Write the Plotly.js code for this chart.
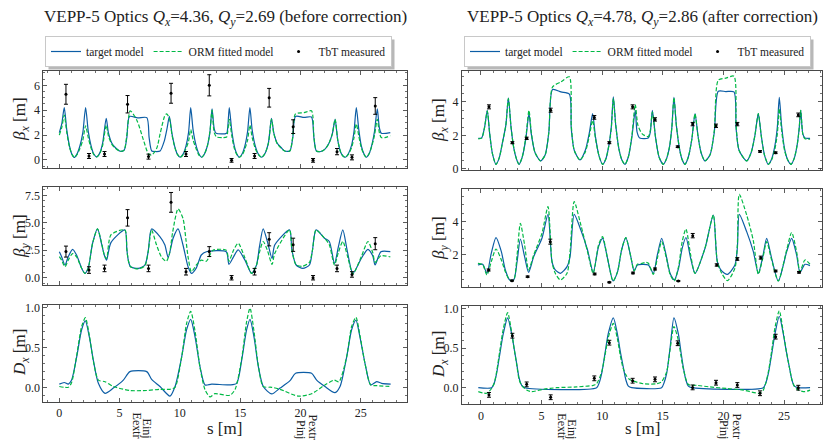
<!DOCTYPE html>
<html><head><meta charset="utf-8">
<script src="https://cdn.plot.ly/plotly-3.0.1.min.js"></script>
<style>html,body{margin:0;padding:0;background:#fff}#chart{width:823px;height:441px}</style>
</head><body><div id="chart"></div>
<script>
// ---------------- DATA (s [m], value) ----------------
// Left column: before correction
const bxL_target = [[0.0,2.2],[0.2,2.9],[0.41,4.2],[0.62,2.4],[0.85,1.1],[1.05,0.45],[1.24,0.2],[1.45,0.45],[1.7,1.1],[1.95,2.2],[2.18,4.2],[2.4,2.3],[2.62,1.2],[2.85,0.5],[3.1,0.25],[3.35,0.55],[3.6,1.4],[3.89,3.35],[4.08,2.15],[4.36,1.34],[4.64,1.0],[5.05,0.7],[5.38,0.8],[5.6,1.8],[5.82,3.5],[6.5,3.38],[7.26,3.4],[7.45,1.8],[7.67,0.72],[8.0,0.68],[8.36,0.72],[8.7,1.5],[8.95,2.6],[9.13,3.5],[9.35,2.1],[9.6,1.0],[9.8,0.45],[10.02,0.22],[10.25,0.45],[10.5,1.1],[10.72,2.2],[10.9,4.2],[11.1,2.4],[11.35,1.15],[11.58,0.5],[11.81,0.22],[12.05,0.5],[12.3,1.2],[12.5,2.3],[12.67,4.1],[12.85,2.5],[13.0,2.15],[13.88,2.15],[13.97,2.6],[14.1,4.2],[14.3,2.4],[14.5,1.2],[14.72,0.5],[14.93,0.22],[15.17,0.5],[15.4,1.15],[15.62,2.3],[15.81,4.2],[16.0,2.4],[16.25,1.15],[16.5,0.5],[16.78,0.22],[17.05,0.5],[17.35,1.4],[17.6,3.35],[17.8,2.15],[18.08,1.34],[18.4,1.0],[18.7,0.72],[19.12,0.72],[19.37,1.8],[19.59,3.5],[20.3,3.42],[20.92,3.45],[21.12,1.8],[21.33,0.72],[21.7,0.68],[22.02,0.85],[22.35,1.3],[22.65,2.1],[22.88,3.27],[23.1,1.6],[23.35,0.6],[23.55,0.3],[23.73,0.22],[23.98,0.5],[24.25,1.2],[24.45,2.3],[24.64,4.2],[24.85,2.4],[25.05,1.15],[25.27,0.5],[25.47,0.22],[25.7,0.5],[25.95,1.3],[26.15,2.3],[26.38,4.1],[26.55,2.6],[26.71,2.15],[27.46,2.2]];
const bxL_orm = [[0.0,2.0],[0.2,2.6],[0.41,3.6],[0.62,2.2],[0.85,1.0],[1.05,0.45],[1.24,0.2],[1.45,0.4],[1.7,0.9],[1.95,1.6],[2.18,2.75],[2.4,1.8],[2.62,1.0],[2.85,0.45],[3.1,0.25],[3.35,0.5],[3.6,1.2],[3.89,2.8],[4.08,1.9],[4.36,1.25],[4.64,0.95],[5.05,0.7],[5.38,0.8],[5.6,2.0],[5.88,3.95],[6.43,3.2],[6.98,1.6],[7.4,0.48],[7.67,0.4],[8.08,0.94],[8.36,2.1],[8.77,3.6],[8.91,3.7],[9.13,3.35],[9.35,2.0],[9.6,0.95],[9.8,0.45],[10.02,0.22],[10.25,0.4],[10.5,0.9],[10.72,1.5],[10.9,2.45],[11.1,1.6],[11.35,0.9],[11.58,0.4],[11.81,0.22],[12.05,0.5],[12.3,1.2],[12.5,2.3],[12.67,4.0],[12.85,2.2],[13.05,1.85],[13.5,1.8],[13.88,1.85],[13.97,2.3],[14.1,3.27],[14.3,2.0],[14.5,1.0],[14.72,0.45],[14.93,0.22],[15.17,0.4],[15.4,0.9],[15.62,1.6],[15.81,2.8],[16.0,1.8],[16.25,0.95],[16.5,0.45],[16.78,0.22],[17.05,0.5],[17.35,1.35],[17.6,3.27],[17.8,2.1],[18.08,1.3],[18.4,0.95],[18.7,0.72],[19.12,0.72],[19.37,1.9],[19.59,3.7],[20.3,3.8],[20.92,3.95],[21.12,1.9],[21.33,0.72],[21.7,0.68],[22.02,0.85],[22.35,1.3],[22.65,2.1],[22.88,3.27],[23.1,1.6],[23.35,0.6],[23.55,0.3],[23.73,0.22],[23.98,0.45],[24.25,1.0],[24.45,1.8],[24.64,2.9],[24.85,1.9],[25.05,1.0],[25.27,0.45],[25.47,0.22],[25.7,0.5],[25.95,1.2],[26.15,2.0],[26.38,3.27],[26.55,2.2],[26.71,1.8],[27.0,1.8],[27.46,1.95]];
const byL_target = [[0.0,2.37],[0.19,1.92],[0.47,1.16],[0.74,1.92],[1.1,2.59],[1.43,2.07],[1.85,0.86],[2.12,0.4],[2.4,0.9],[2.76,3.14],[3.17,4.44],[3.5,3.1],[3.75,2.0],[3.92,1.6],[4.28,3.2],[5.44,4.35],[5.6,2.6],[5.72,1.6],[5.91,1.0],[6.54,0.85],[7.1,1.16],[7.37,2.37],[7.65,4.44],[8.34,3.74],[8.75,3.0],[9.03,1.85],[9.44,3.6],[9.85,4.44],[10.26,2.98],[10.68,1.0],[10.96,0.4],[11.37,0.9],[11.78,2.07],[12.2,2.37],[13.85,2.37],[14.07,1.22],[14.45,1.9],[14.84,2.53],[15.4,1.6],[15.95,0.4],[16.36,1.16],[16.6,2.8],[16.91,4.44],[17.26,3.3],[17.65,1.75],[17.87,2.98],[19.1,4.35],[19.3,2.5],[19.65,1.16],[20.2,0.85],[20.75,1.16],[21.0,2.5],[21.3,4.35],[22.0,3.6],[22.4,3.3],[22.83,1.3],[23.15,2.8],[23.52,4.35],[23.9,2.37],[24.36,0.4],[25.05,1.75],[25.6,2.59],[26.0,2.0],[26.2,1.16],[26.68,2.37],[27.46,2.37]];
const byL_orm = [[0.0,1.92],[0.19,1.6],[0.47,1.0],[0.74,1.6],[1.1,2.2],[1.43,1.9],[1.85,0.86],[2.12,0.4],[2.4,0.9],[2.76,3.14],[3.17,4.44],[3.5,3.2],[3.75,2.0],[3.92,1.75],[4.28,3.9],[5.44,4.35],[5.6,2.6],[5.72,1.6],[5.91,1.0],[6.54,0.8],[7.1,1.1],[7.37,2.37],[7.65,4.35],[8.06,3.0],[8.47,1.9],[8.88,1.5],[9.14,2.2],[9.41,4.2],[9.85,6.27],[10.26,5.4],[10.5,3.5],[10.68,1.9],[10.96,0.55],[11.37,1.16],[11.78,1.6],[12.2,1.5],[12.75,2.5],[13.85,2.5],[14.07,1.5],[14.45,2.5],[14.84,3.14],[15.4,1.8],[15.95,0.4],[16.36,1.16],[16.6,2.3],[16.91,3.3],[17.26,2.5],[17.65,1.22],[17.87,2.2],[19.1,4.35],[19.3,2.5],[19.65,1.16],[20.2,1.05],[20.75,1.4],[21.0,2.5],[21.3,4.35],[22.0,3.6],[22.4,3.0],[22.83,1.16],[23.15,2.3],[23.52,3.3],[23.9,2.0],[24.36,0.35],[25.05,1.9],[25.6,3.3],[26.0,2.3],[26.2,1.4],[26.68,2.0],[27.46,1.9]];
const dxL_target = [[0,0.04],[0.41,0.06],[0.75,0.04],[1.02,0.09],[1.44,0.38],[1.85,0.72],[2.16,0.83],[2.49,0.63],[2.82,0.34],[3.24,0.05],[3.79,-0.075],[4.48,-0.01],[5.31,0.09],[5.86,0.196],[7.25,0.196],[7.66,0.1],[8.35,0.01],[9.18,-0.11],[9.6,0.01],[10.15,0.38],[10.56,0.72],[10.9,0.85],[11.26,0.63],[11.67,0.26],[12.09,0.03],[12.64,0.04],[14.16,0.03],[14.71,0.05],[15.13,0.34],[15.54,0.72],[15.82,0.85],[16.15,0.63],[16.51,0.26],[16.92,0.01],[17.62,-0.083],[18.31,-0.01],[19.14,0.083],[19.6,0.175],[20.93,0.175],[21.35,0.09],[22.04,0.01],[22.87,-0.067],[23.29,0.01],[23.84,0.38],[24.25,0.72],[24.61,0.84],[24.94,0.63],[25.36,0.3],[25.83,0.03],[26.33,0.07],[26.74,0.05],[27.49,0.04]];
const dxL_orm = [[0,0.01],[0.75,0.0],[1.02,0.06],[1.44,0.4],[1.85,0.76],[2.16,0.87],[2.49,0.65],[2.82,0.33],[3.24,0.09],[3.79,0.07],[4.48,0.01],[5.86,-0.04],[7.25,-0.04],[8.35,-0.025],[9.18,-0.025],[9.6,0.0],[10.15,0.38],[10.56,0.8],[10.9,0.95],[11.26,0.7],[11.67,0.25],[12.09,-0.03],[12.5,-0.12],[12.9,-0.08],[14.16,-0.1],[14.6,-0.02],[15.13,0.36],[15.54,0.82],[15.82,0.99],[16.15,0.7],[16.51,0.27],[16.92,0.01],[17.62,0.0],[18.31,-0.025],[19.8,-0.11],[20.93,-0.08],[22.04,0.03],[22.8,0.09],[23.2,0.07],[23.84,0.38],[24.25,0.76],[24.61,0.875],[24.94,0.65],[25.36,0.3],[25.83,0.03],[26.33,0.02],[27.49,0.01]];
// BPM measurements, left (TbT)
const bpmL = [0.55,2.46,3.75,5.66,7.40,9.27,10.51,12.44,14.29,16.2,17.41,19.40,21.05,23.04,24.28,26.21];
const bxL_meas = [5.28,0.32,0.48,4.48,0.27,5.36,0.48,6.0,-0.03,0.32,5.0,2.68,-0.03,0.67,0.21,4.34];
const bxL_err  = [0.8,0.2,0.2,0.7,0.2,0.8,0.2,0.85,0.15,0.2,0.75,0.55,0.15,0.25,0.2,0.67];
const byL_meas = [2.38,0.7,0.85,5.45,0.85,6.86,0.55,2.38,0.0,0.55,3.5,3.0,0.0,0.85,0.3,3.1];
const byL_err  = [0.5,0.3,0.3,0.75,0.3,0.9,0.3,0.45,0.2,0.3,0.6,0.6,0.2,0.3,0.25,0.55];

// Right column: after correction
const bxR_target = [[-0.22,1.83],[0.06,1.86],[0.3,2.5],[0.52,3.5],[0.72,2.1],[0.95,0.9],[1.24,0.28],[1.5,0.65],[1.78,1.6],[2.05,2.6],[2.26,4.25],[2.48,2.5],[2.72,1.2],[2.95,0.55],[3.14,0.28],[3.4,0.7],[3.7,1.8],[3.96,3.3],[4.15,2.1],[4.45,1.0],[4.92,0.48],[5.3,0.85],[5.6,2.2],[5.91,4.74],[6.6,4.6],[7.29,4.47],[7.45,2.4],[7.7,1.1],[8.17,0.54],[8.6,1.1],[8.95,2.2],[9.21,3.3],[9.45,1.9],[9.75,0.75],[10.04,0.28],[10.3,0.6],[10.55,1.4],[10.75,2.5],[10.92,4.3],[11.12,2.6],[11.38,1.2],[11.62,0.55],[11.88,0.28],[12.15,0.7],[12.45,1.9],[12.73,3.5],[12.88,2.2],[13.1,1.85],[13.8,1.85],[13.97,2.2],[14.14,3.5],[14.4,1.9],[14.7,0.7],[15.04,0.28],[15.3,0.6],[15.55,1.3],[15.75,2.5],[15.92,4.27],[16.12,2.6],[16.38,1.2],[16.6,0.55],[16.83,0.28],[17.1,0.7],[17.4,1.8],[17.66,3.3],[17.9,2.0],[18.15,1.0],[18.48,0.48],[18.9,0.85],[19.25,2.2],[19.58,4.64],[20.2,4.62],[20.87,4.6],[21.05,2.4],[21.3,1.1],[21.92,0.48],[22.3,1.0],[22.6,2.0],[22.88,3.3],[23.12,2.0],[23.4,0.8],[23.71,0.28],[23.98,0.6],[24.25,1.4],[24.45,2.5],[24.61,4.27],[24.8,2.6],[25.05,1.2],[25.3,0.55],[25.58,0.28],[25.85,0.65],[26.1,1.5],[26.25,2.4],[26.38,3.5],[26.55,2.1],[26.73,1.85],[27.15,1.83]];
const bxR_orm = [[-0.22,1.8],[0.06,1.84],[0.3,2.5],[0.52,3.45],[0.72,2.1],[0.95,0.9],[1.24,0.28],[1.5,0.65],[1.78,1.6],[2.05,2.6],[2.26,4.2],[2.48,2.5],[2.72,1.2],[2.95,0.55],[3.14,0.28],[3.4,0.7],[3.7,1.9],[3.96,3.5],[4.15,2.2],[4.45,1.0],[4.92,0.48],[5.3,0.85],[5.6,2.2],[5.91,4.9],[6.6,5.2],[7.29,5.5],[7.45,2.6],[7.7,1.1],[8.17,0.54],[8.6,1.0],[8.95,2.0],[9.21,2.9],[9.45,1.8],[9.75,0.75],[10.04,0.28],[10.3,0.6],[10.55,1.4],[10.75,2.4],[10.92,4.2],[11.12,2.6],[11.38,1.2],[11.62,0.55],[11.88,0.28],[12.15,0.7],[12.45,2.0],[12.73,3.85],[12.95,2.6],[13.3,2.1],[13.8,1.93],[13.97,2.3],[14.14,3.4],[14.4,1.9],[14.7,0.7],[15.04,0.28],[15.3,0.6],[15.55,1.3],[15.75,2.5],[15.92,4.27],[16.12,2.6],[16.38,1.2],[16.6,0.55],[16.83,0.28],[17.1,0.7],[17.4,1.8],[17.66,3.3],[17.9,2.0],[18.15,1.0],[18.48,0.48],[18.9,0.85],[19.25,2.3],[19.58,5.3],[20.2,5.42],[20.87,5.54],[21.05,2.6],[21.3,1.1],[21.92,0.48],[22.3,1.0],[22.6,2.0],[22.88,3.3],[23.12,2.0],[23.4,0.8],[23.71,0.28],[23.98,0.55],[24.25,1.2],[24.45,2.1],[24.61,3.6],[24.8,2.3],[25.05,1.1],[25.3,0.55],[25.58,0.28],[25.85,0.65],[26.1,1.5],[26.25,2.4],[26.38,3.5],[26.55,2.1],[26.73,1.8],[27.15,1.78]];
const byR_target = [[-0.25,1.40],[0.14,1.44],[0.49,0.9],[0.85,2.1],[1.24,3.04],[1.68,2.2],[2.01,1.1],[2.37,0.5],[2.7,0.5],[2.98,1.6],[3.25,2.96],[3.6,1.9],[3.93,0.96],[4.35,1.9],[5.03,3.0],[5.53,4.44],[5.86,1.6],[6.13,1.1],[6.55,0.9],[7.1,1.3],[7.35,1.9],[7.69,4.44],[8.24,3.5],[8.79,2.3],[9.26,0.96],[9.7,2.5],[10.03,3.0],[10.44,1.8],[10.9,0.44],[11.27,1.0],[11.6,2.3],[11.95,3.04],[12.36,1.9],[12.64,1.04],[12.9,1.4],[13.3,1.44],[13.81,1.4],[14.22,0.9],[14.55,2.0],[14.91,3.0],[15.3,1.9],[15.6,0.9],[15.95,0.5],[16.3,1.2],[16.6,2.4],[16.91,3.05],[17.3,1.8],[17.66,0.9],[18.48,2.4],[19.17,4.4],[19.5,1.6],[19.86,1.04],[20.33,0.84],[20.95,1.4],[21.15,2.4],[21.31,4.44],[21.92,3.4],[22.47,2.2],[22.88,0.9],[23.25,1.9],[23.57,3.0],[23.98,1.8],[24.53,0.44],[25.22,2.2],[25.63,3.0],[26.04,2.0],[26.32,0.96],[26.73,1.44],[27.14,1.36]];
const byR_orm = [[-0.25,1.5],[0.14,1.42],[0.49,0.8],[0.85,1.6],[1.24,2.36],[1.68,1.7],[2.01,1.0],[2.37,0.5],[2.7,0.5],[2.98,2.0],[3.25,3.9],[3.6,2.6],[3.93,1.1],[4.35,2.0],[5.03,3.3],[5.53,4.9],[5.86,1.6],[6.13,0.9],[6.55,0.5],[7.1,0.9],[7.35,2.2],[7.69,5.2],[8.24,3.8],[8.79,2.2],[9.26,0.9],[9.7,2.6],[10.03,3.1],[10.44,1.8],[10.9,0.44],[11.27,1.0],[11.6,2.3],[11.95,3.04],[12.36,1.9],[12.64,1.04],[12.9,1.45],[13.3,1.5],[13.6,1.56],[13.81,1.5],[14.22,0.84],[14.55,1.8],[14.91,2.8],[15.3,1.8],[15.6,0.85],[15.95,0.44],[16.3,1.3],[16.6,2.8],[16.91,3.56],[17.3,2.0],[17.66,0.9],[18.48,2.4],[19.17,4.4],[19.5,1.6],[19.86,0.9],[20.33,0.46],[20.95,1.2],[21.15,2.6],[21.31,5.64],[21.92,4.4],[22.47,2.85],[22.88,0.85],[23.25,1.8],[23.57,2.8],[23.98,1.7],[24.53,0.44],[25.22,2.3],[25.63,3.35],[26.04,2.2],[26.32,1.0],[26.73,1.7],[27.14,1.45]];
const dxR_target = [[-0.22,0],[0.88,0],[1.1,0.06],[1.29,0.18],[1.55,0.42],[1.84,0.68],[2.2,0.88],[2.53,0.68],[2.75,0.48],[2.94,0.31],[3.15,0.12],[3.36,0.03],[3.63,0],[9.54,0],[9.75,0.06],[9.96,0.18],[10.22,0.42],[10.5,0.68],[10.92,0.88],[11.25,0.68],[11.5,0.45],[11.74,0.26],[11.95,0.1],[12.16,0.02],[12.43,0],[14.9,0],[15.1,0.06],[15.32,0.18],[15.6,0.5],[15.92,0.88],[16.28,0.68],[16.5,0.45],[16.69,0.26],[16.9,0.1],[17.11,0.02],[17.38,0],[23.29,0],[23.5,0.06],[23.71,0.18],[23.98,0.42],[24.26,0.68],[24.61,0.9],[24.94,0.68],[25.2,0.45],[25.44,0.26],[25.65,0.1],[25.85,0.02],[26.18,0],[27.15,0]];
const dxR_orm = [[-0.22,-0.05],[0.47,-0.07],[0.88,-0.01],[1.1,0.06],[1.29,0.2],[1.55,0.46],[1.84,0.74],[2.2,0.945],[2.53,0.7],[2.75,0.48],[2.94,0.3],[3.15,0.1],[3.36,0.03],[3.77,-0.03],[4.18,-0.05],[5.14,-0.02],[6.24,0.0],[7.89,0.01],[9.26,0.03],[9.54,0.05],[9.96,0.2],[10.22,0.4],[10.5,0.63],[10.92,0.81],[11.25,0.62],[11.5,0.4],[11.74,0.24],[12.0,0.15],[12.3,0.1],[13.39,0.05],[14.49,0.05],[14.9,0.075],[15.32,0.2],[15.6,0.48],[15.92,0.77],[16.28,0.6],[16.5,0.4],[16.69,0.24],[17.11,0.04],[17.8,0.03],[18.89,0.01],[20.26,-0.01],[21.64,-0.03],[23.0,-0.07],[23.29,-0.03],[23.5,0.06],[23.71,0.2],[23.98,0.46],[24.26,0.76],[24.61,0.97],[24.94,0.7],[25.2,0.45],[25.44,0.26],[25.65,0.1],[25.85,0.02],[26.18,-0.03],[26.73,-0.05],[27.15,-0.03]];
const bpmR_x = [0.66,2.59,3.77,5.75,9.35,10.59,12.51,14.36,16.23,17.46,19.39,21.15,23.02,24.31,26.18];
const bxR_meas = [3.71,1.57,1.83,3.51,3.08,1.57,3.71,2.96,1.33,2.68,2.58,2.68,1.05,0.97,3.23];
const bxR_err  = [0.12,0.06,0.07,0.12,0.11,0.06,0.12,0.1,0.05,0.1,0.1,0.1,0.05,0.05,0.11];
const bpmR_y = [0.63,2.56,3.85,5.72,9.38,10.59,12.54,14.36,16.28,17.47,19.45,21.15,23.08,24.31,26.24];
const byR_meas = [1.1,0.46,0.7,2.8,0.86,0.36,0.92,1.16,0.44,3.16,1.4,1.76,1.84,1.04,0.96];
const byR_err  = [0.06,0.03,0.04,0.15,0.05,0.03,0.05,0.06,0.03,0.13,0.07,0.08,0.09,0.05,0.05];
const dxR_meas = [-0.09,0.655,0.042,-0.12,0.118,0.567,0.088,0.105,0.56,0.004,0.063,0.034,-0.07,0.643,0.0];
const dxR_err  = [0.03,0.03,0.03,0.03,0.03,0.03,0.03,0.03,0.03,0.03,0.03,0.03,0.03,0.03,0.03];

const titleL = 'VEPP-5 Optics <i>Q<sub>x</sub></i>=4.36, <i>Q<sub>y</sub></i>=2.69 (before correction)';
const titleR = 'VEPP-5 Optics <i>Q<sub>x</sub></i>=4.78, <i>Q<sub>y</sub></i>=2.86 (after correction)';
const markLabels = ['Eextr','Einj','Pinj','Pextr'];
const markPosL = [6.48,7.31,20.09,21.05];
const markPosR = [6.66,7.48,20.1,21.2];

// ---------------- DRAWING ----------------
const FONT = 'Liberation Serif';
const BLUE = '#0C5DA5', GREEN = '#00B945';
const W = 823, H = 441;
const px = v => v / W, py = v => 1 - v / H;
const xs = p => p.map(d => d[0]), ys = p => p.map(d => d[1]);

function line(p, xa, ya, kind, leg, show) {
  const isT = kind === 't';
  return {type:'scatter', mode:'lines', x:xs(p), y:ys(p), xaxis:xa, yaxis:ya,
    name: isT ? 'target model' : 'ORM fitted model', legend:leg, showlegend:show,
    line:{color: isT ? BLUE : GREEN, width:1.2, dash: isT ? 'solid' : '4px,2px', shape:'spline', smoothing:0.7},
    hoverinfo:'skip'};
}
function meas(x, y, e, xa, ya, leg, show) {
  return {type:'scatter', mode:'markers', x:x, y:y, xaxis:xa, yaxis:ya, name:'TbT measured',
    legend:leg, showlegend:show, marker:{color:'#000', size:3},
    error_y:{type:'data', array:e, visible:true, color:'#000', thickness:1, width:2}, hoverinfo:'skip'};
}

const traces = [
  line(bxL_target,'x','y','t','legend',true),
  line(bxL_orm,'x','y','o','legend',true),
  meas(bpmL,bxL_meas,bxL_err,'x','y','legend',true),
  line(byL_target,'x2','y2','t','legend',false),
  line(byL_orm,'x2','y2','o','legend',false),
  meas(bpmL,byL_meas,byL_err,'x2','y2','legend',false),
  line(dxL_target,'x3','y3','t','legend',false),
  line(dxL_orm,'x3','y3','o','legend',false),
  line(bxR_target,'x4','y4','t','legend2',true),
  line(bxR_orm,'x4','y4','o','legend2',true),
  meas(bpmR_x,bxR_meas,bxR_err,'x4','y4','legend2',true),
  line(byR_target,'x5','y5','t','legend2',false),
  line(byR_orm,'x5','y5','o','legend2',false),
  meas(bpmR_y,byR_meas,byR_err,'x5','y5','legend2',false),
  line(dxR_target,'x6','y6','t','legend2',false),
  line(dxR_orm,'x6','y6','o','legend2',false),
  meas(bpmR_x,dxR_meas,dxR_err,'x6','y6','legend2',false)
];

const AX = '#333';
function xax(dom, anchor, labels, range) {
  return {domain:dom, anchor:anchor, range:range, showticklabels:labels, ticks:'inside', ticklen:4, tickwidth:0.8,
    tickcolor:AX, mirror:'allticks', showline:true, linecolor:AX, linewidth:0.9, showgrid:false, zeroline:false,
    tick0:0, dtick:5, minor:{ticks:'inside', ticklen:2, dtick:1, tick0:0, tickcolor:AX, tickwidth:0.7, showgrid:false},
    tickfont:{family:FONT, size:12, color:'#222'}};
}
function yax(dom, anchor, range, dtick, mdt, fmt) {
  return {domain:dom, anchor:anchor, range:range, ticks:'inside', ticklen:4, tickwidth:0.8, tickcolor:AX,
    mirror:'allticks', showline:true, linecolor:AX, linewidth:0.9, showgrid:false, zeroline:false,
    tick0:0, dtick:dtick, tickformat:fmt, minor:{ticks:'inside', ticklen:2, dtick:mdt, tick0:0, tickcolor:AX, tickwidth:0.7, showgrid:false},
    tickfont:{family:FONT, size:12, color:'#222'}};
}
const xL = [px(43.3), px(407.3)], xR = [px(461.7), px(821.7)];
const rxL = [-1.33, 28.87], rxR = [-1.59, 28.11];

const ann = [];
function txt(t, x, y, size, extra) { ann.push(Object.assign({text:t, x:x, y:y, xref:'paper', yref:'paper', showarrow:false, font:{family:FONT, size:size, color:'#222'}}, extra||{})); }
txt(titleL, px(225), py(18), 17, {xanchor:'center', yanchor:'middle'});
txt(titleR, px(642), py(18), 17, {xanchor:'center', yanchor:'middle'});
const ylab = ['<i>β<sub>x</sub></i> [m]','<i>β<sub>y</sub></i> [m]','<i>D<sub>x</sub></i> [m]'];
const ycL = [119, 236, 353], ycR = [120, 238, 355];
for (let i = 0; i < 3; i++) {
  txt(ylab[i], px(21), py(ycL[i]), 17, {textangle:-90, xanchor:'center', yanchor:'middle'});
  txt(ylab[i], px(440), py(ycR[i]), 17, {textangle:-90, xanchor:'center', yanchor:'middle'});
}
txt('s [m]', px(224), py(428), 17, {xanchor:'center', yanchor:'middle'});
txt('s [m]', px(642), py(428), 17, {xanchor:'center', yanchor:'middle'});
for (let i = 0; i < 4; i++) {
  ann.push({text:markLabels[i], x:markPosL[i], xref:'x3', y:py(441), yref:'paper', showarrow:false, textangle:90,
    xanchor:'center', yanchor:'bottom', font:{family:FONT, size:12, color:'#222'}});
  ann.push({text:markLabels[i], x:markPosR[i], xref:'x6', y:py(441), yref:'paper', showarrow:false, textangle:90,
    xanchor:'center', yanchor:'bottom', font:{family:FONT, size:12, color:'#222'}});
}

const legBase = {orientation:'h', xanchor:'left', yanchor:'top', bgcolor:'#fff', bordercolor:'#c8c8c8', borderwidth:1,
  font:{family:FONT, size:11.5, color:'#222'}, itemwidth:30, tracegroupgap:0};

const layout = {
  width:W, height:H, margin:{l:0, r:0, t:0, b:0}, paper_bgcolor:'#fff', plot_bgcolor:'#fff',
  showlegend:true, hovermode:false,
  legend:Object.assign({}, legBase, {x:px(45), y:py(36)}),
  legend2:Object.assign({}, legBase, {x:px(464), y:py(36)}),
  xaxis:xax(xL,'y',false,rxL), xaxis2:xax(xL,'y2',false,rxL), xaxis3:xax(xL,'y3',true,rxL),
  xaxis4:xax(xR,'y4',false,rxR), xaxis5:xax(xR,'y5',false,rxR), xaxis6:xax(xR,'y6',true,rxR),
  yaxis:yax([py(167.7), py(71)],'x',[-0.62,7.15],2,0.5,'d'),
  yaxis2:yax([py(285), py(187.3)],'x2',[-0.66,8.23],2.5,0.5,'.1f'),
  yaxis3:yax([py(401.7), py(305)],'x3',[-0.18,1.029],0.5,0.1,'.1f'),
  yaxis4:yax([py(170), py(71)],'x4',[-0.06,5.85],2,0.5,'d'),
  yaxis5:yax([py(286.7), py(189)],'x5',[0.096,5.96],2,0.5,'d'),
  yaxis6:yax([py(404.3), py(306)],'x6',[-0.209,1.029],0.5,0.1,'.1f'),
  annotations:ann
};
Plotly.newPlot('chart', traces, layout, {staticPlot:true, displayModeBar:false}).then(function(gd){
  // drop shadow behind each legend box, sized from the rendered legend
  const root = gd.getBoundingClientRect();
  const shapes = [];
  ['legend','legend2'].forEach(function(id){
    const bg = gd.querySelector('g.' + id + ' rect.bg');
    if (!bg) return;
    const b = bg.getBoundingClientRect();
    const l = b.left - root.left, t = b.top - root.top;
    shapes.push({type:'rect', xref:'paper', yref:'paper', x0:px(l+3), x1:px(l+b.width+3), y0:py(t+b.height+3), y1:py(t+3),
      fillcolor:'#b8b8b8', line:{width:0}, layer:'below'});
  });
  return Plotly.relayout(gd, {shapes:shapes});
});
</script></body></html>
